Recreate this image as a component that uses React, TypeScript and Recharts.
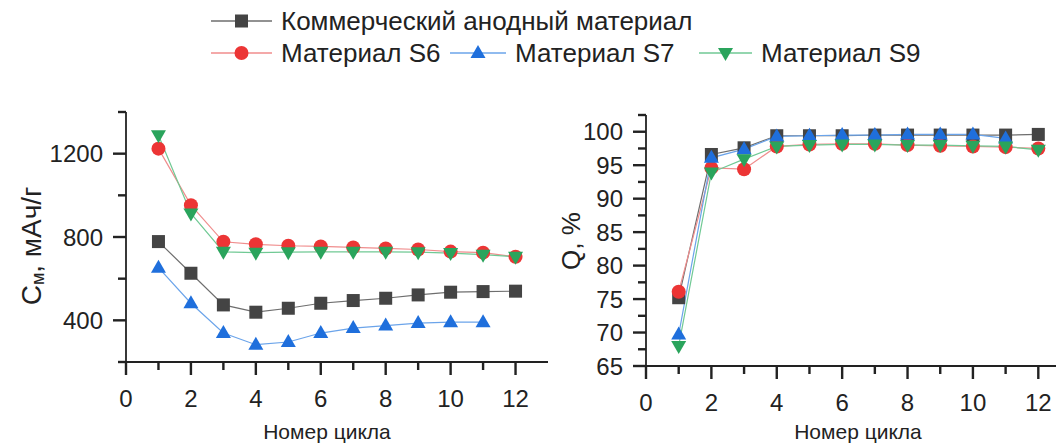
import { Label, Line, LineChart, XAxis, YAxis } from 'recharts'

// cycle number (x) for both panels
const cycles = [1, 2, 3, 4, 5, 6, 7, 8, 9, 10, 11, 12]

// specific capacity, mAh/g
const capCommercial = [778, 626, 474, 439, 458, 482, 495, 506, 522, 535, 538, 540]
const capS6 = [1224, 953, 777, 765, 758, 755, 750, 745, 740, 730, 725, 705]
const capS7 = [653, 482, 339, 283, 296, 339, 363, 375, 387, 391, 391]
const capS9 = [1288, 913, 729, 725, 727, 729, 729, 729, 727, 723, 715, 705]

// coulombic efficiency, %
const effCommercial = [75.2, 96.6, 97.6, 99.4, 99.4, 99.4, 99.5, 99.5, 99.5, 99.5, 99.5, 99.6]
const effS6 = [76.1, 94.6, 94.4, 97.8, 98.1, 98.2, 98.2, 98.0, 97.9, 97.8, 97.7, 97.5]
const effS7 = [69.7, 96.1, 97.4, 99.3, 99.4, 99.5, 99.5, 99.6, 99.6, 99.6, 99.0]
const effS9 = [68.0, 93.9, 95.9, 97.8, 98.0, 98.1, 98.1, 98.0, 98.0, 97.9, 97.8, 97.3]

const cycleTicks = [0, 1, 2, 3, 4, 5, 6, 7, 8, 9, 10, 11, 12]
const capTicks = [200, 400, 600, 800, 1000, 1200, 1400]
const effTicks = [65, 67.5, 70, 72.5, 75, 77.5, 80, 82.5, 85, 87.5, 90, 92.5, 95, 97.5, 100, 102.5]

type Shape = 'square' | 'circle' | 'up' | 'down'
interface Series {
  key: 'com' | 's6' | 's7' | 's9'
  name: string
  shape: Shape
  line: string
  fill: string
}

const series: Series[] = [
  { key: 'com', name: 'Коммерческий анодный материал', shape: 'square', line: '#6e6e6e', fill: '#444444' },
  { key: 's6', name: 'Материал S6', shape: 'circle', line: '#f08d8d', fill: '#ec3535' },
  { key: 's7', name: 'Материал S7', shape: 'up', line: '#6ba4ea', fill: '#1f6fdc' },
  { key: 's9', name: 'Материал S9', shape: 'down', line: '#70c994', fill: '#2aa45c' },
]

const capRows = cycles.map((c, i) => ({
  cycle: c,
  com: capCommercial[i],
  s6: capS6[i],
  s7: capS7[i],
  s9: capS9[i],
}))

const effRows = cycles.map((c, i) => ({
  cycle: c,
  com: effCommercial[i],
  s6: effS6[i],
  s7: effS7[i],
  s9: effS9[i],
}))

const FONT = '"Liberation Sans", Arial, sans-serif'
const INK = '#222'

function Marker({ cx, cy, shape, fill }: { cx?: number; cy?: number; shape: Shape; fill: string }) {
  if (cx == null || cy == null || isNaN(cx) || isNaN(cy)) return null
  switch (shape) {
    case 'square':
      return <rect x={cx - 6.5} y={cy - 6.5} width={13} height={13} fill={fill} />
    case 'circle':
      return <circle cx={cx} cy={cy} r={7} fill={fill} />
    case 'up':
      return <polygon points={`${cx},${cy - 8} ${cx + 7.5},${cy + 5} ${cx - 7.5},${cy + 5}`} fill={fill} />
    default:
      return <polygon points={`${cx},${cy + 8} ${cx + 7.5},${cy - 5} ${cx - 7.5},${cy - 5}`} fill={fill} />
  }
}

// tick marks are drawn here so that major (labelled) and minor ticks get different lengths
function XTick(p: any) {
  const major = p.payload.value % 2 === 0
  return (
    <g>
      <rect x={p.x - 1.2} y={p.y} width={2.4} height={major ? 13 : 8} fill={INK} />
      {major && (
        <text x={p.x} y={p.y + 36} textAnchor="middle" dominantBaseline="central" fontSize={24} fontFamily={FONT} fill={INK}>
          {p.payload.value}
        </text>
      )}
    </g>
  )
}

function YTick(p: any, step: number) {
  const major = p.payload.value % step === 0
  const len = major ? 13 : 8
  return (
    <g>
      <rect x={p.x - len} y={p.y - 1.2} width={len} height={2.4} fill={INK} />
      {major && (
        <text x={p.x - 23} y={p.y} textAnchor="end" dominantBaseline="central" fontSize={24} fontFamily={FONT} fill={INK}>
          {p.payload.value}
        </text>
      )}
    </g>
  )
}

function lines() {
  return series.map((s) => (
    <Line
      key={s.key}
      dataKey={s.key}
      name={s.name}
      stroke={s.line}
      strokeWidth={1.2}
      isAnimationActive={false}
      dot={(d: any) => <Marker key={`${s.key}-${d.index}`} cx={d.cx} cy={d.cy} shape={s.shape} fill={s.fill} />}
      activeDot={false}
    />
  ))
}

function Legend() {
  const row2 = [
    { s: series[1], x: 211, len: 61 },
    { s: series[2], x: 450, len: 56 },
    { s: series[3], x: 699, len: 53 },
  ]
  const entry = (s: Series, x: number, len: number, y: number) => (
    <g key={s.key}>
      <line x1={x} x2={x + len} y1={y} y2={y} stroke={s.line} strokeWidth={1.5} />
      <Marker cx={x + len / 2} cy={y} shape={s.shape} fill={s.fill} />
      <text x={x + len + 9} y={y} dominantBaseline="central" fontSize={26} fontFamily={FONT} fill={INK}>
        {s.name}
      </text>
    </g>
  )
  return (
    <svg width={1056} height={80} style={{ position: 'absolute', left: 0, top: 0 }}>
      {entry(series[0], 211, 61, 21)}
      {row2.map((r) => entry(r.s, r.x, r.len, 53))}
    </svg>
  )
}

export default function App() {
  const axisLine = { stroke: INK, strokeWidth: 1.8 }
  return (
    <div
      style={{
        position: 'fixed',
        left: 0,
        top: 0,
        width: 1056,
        height: 443,
        overflow: 'hidden',
        background: '#fff',
        fontFamily: FONT,
      }}
    >
      <Legend />
      <div style={{ position: 'absolute', left: 0, top: 0 }}>
        <LineChart width={560} height={443} data={capRows} margin={{ top: 112, right: 12, bottom: 0, left: 0 }}>
          <XAxis
            dataKey="cycle"
            type="number"
            domain={[0, 13]}
            ticks={cycleTicks}
            interval={0}
            height={81}
            tickSize={0}
            tickMargin={0}
            tickLine={false}
            axisLine={axisLine}
            tick={(p: any) => <XTick {...p} />}
          >
            <Label
              content={() => (
                <text x={327} y={431} textAnchor="middle" dominantBaseline="central" fontSize={21} fontFamily={FONT} fill={INK}>
                  Номер цикла
                </text>
              )}
            />
          </XAxis>
          <YAxis
            type="number"
            domain={[200, 1400]}
            ticks={capTicks}
            interval={0}
            width={126}
            tickSize={0}
            tickMargin={0}
            tickLine={false}
            axisLine={axisLine}
            tick={(p: any) => YTick(p, 400)}
          >
            <Label
              content={() => (
                <text
                  transform="translate(31, 246) rotate(-90)"
                  textAnchor="middle"
                  dominantBaseline="central"
                  fontSize={28}
                  fontFamily={FONT}
                  fill={INK}
                >
                  <tspan>C</tspan>
                  <tspan fontSize={18} dy={7}>м</tspan>
                  <tspan dy={-7}>, мАч/г</tspan>
                </text>
              )}
            />
          </YAxis>
          {lines()}
        </LineChart>
      </div>
      <div style={{ position: 'absolute', left: 546, top: 0 }}>
        <LineChart width={534} height={443} data={effRows} margin={{ top: 115, right: 9, bottom: 0, left: 0 }}>
          <XAxis
            dataKey="cycle"
            type="number"
            domain={[0, 13]}
            ticks={cycleTicks}
            interval={0}
            height={77}
            tickSize={0}
            tickMargin={0}
            tickLine={false}
            axisLine={axisLine}
            tick={(p: any) => <XTick {...p} />}
          >
            <Label
              content={() => (
                <text x={312} y={431} textAnchor="middle" dominantBaseline="central" fontSize={21} fontFamily={FONT} fill={INK}>
                  Номер цикла
                </text>
              )}
            />
          </XAxis>
          <YAxis
            type="number"
            domain={[65, 102.5]}
            ticks={effTicks}
            interval={0}
            width={100}
            tickSize={0}
            tickMargin={0}
            tickLine={false}
            axisLine={axisLine}
            tick={(p: any) => YTick(p, 5)}
          >
            <Label
              content={() => (
                <text
                  transform="translate(25, 241) rotate(-90)"
                  textAnchor="middle"
                  dominantBaseline="central"
                  fontSize={26}
                  fontFamily={FONT}
                  fill={INK}
                >
                  Q, %
                </text>
              )}
            />
          </YAxis>
          {lines()}
        </LineChart>
      </div>
    </div>
  )
}
